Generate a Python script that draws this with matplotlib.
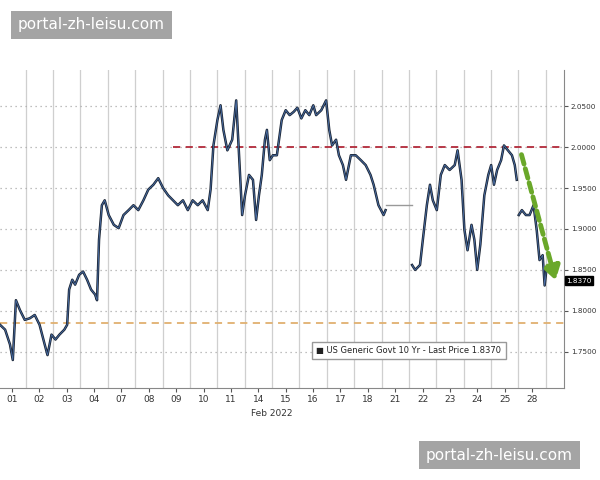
import matplotlib
matplotlib.use("Agg")
import matplotlib.pyplot as plt
import numpy as np

tick_labels = ["01","02","03","04","07","08","09","10","11","14","15","16","17","18","21","22","23","24","25","28"]
t1 = [-0.42,-0.24,-0.07,0.03,0.14,0.28,0.45,0.63,0.80,0.97,1.15,1.25,1.39,1.53,1.67,1.84,1.94,2.01,2.12,2.22,2.36,2.50,2.64,2.78,2.92,2.99,3.06,3.16,3.26,3.40,3.58,3.75,3.92,4.10,4.27,4.44,4.62,4.79,4.97,5.14,5.31,5.49,5.66,5.83,6.01,6.18,6.35,6.53,6.70,6.88,6.98,7.08,7.22,7.33,7.43,7.57,7.74,7.88,7.99,8.09,8.19,8.33,8.47,8.58,8.68,8.78,8.89,8.96,9.06,9.17,9.31,9.48,9.62,9.76,9.90,10.03,10.17,10.31,10.45,10.59,10.69,10.87,11.04,11.15,11.25,11.39,11.49,11.63,11.74,11.91,12.08,12.26,12.43,12.60,12.71,12.88,13.06,13.13]
v1 = [1.783,1.777,1.759,1.740,1.813,1.801,1.789,1.791,1.795,1.783,1.759,1.746,1.771,1.765,1.771,1.777,1.783,1.826,1.838,1.832,1.844,1.848,1.838,1.826,1.820,1.813,1.887,1.929,1.935,1.917,1.905,1.901,1.917,1.923,1.929,1.923,1.935,1.948,1.954,1.962,1.950,1.941,1.935,1.929,1.935,1.923,1.935,1.929,1.935,1.923,1.948,2.002,2.033,2.051,2.021,1.996,2.009,2.057,1.984,1.917,1.941,1.966,1.960,1.911,1.941,1.966,2.009,2.021,1.984,1.990,1.990,2.033,2.045,2.039,2.043,2.048,2.035,2.045,2.039,2.051,2.039,2.045,2.057,2.021,2.002,2.009,1.990,1.978,1.960,1.990,1.990,1.984,1.978,1.966,1.954,1.929,1.917,1.923]
t_gap = [13.13, 14.06]
v_gap = [1.929, 1.929]
t2 = [14.06,14.17,14.34,14.44,14.58,14.69,14.79,14.93,15.07,15.21,15.38,15.56,15.66,15.80,15.90,16.01,16.15,16.25,16.35,16.46,16.60,16.74,16.84,16.94,17.05,17.19,17.29,17.43,17.57,17.67,17.74]
v2 = [1.856,1.850,1.856,1.887,1.929,1.954,1.935,1.923,1.966,1.978,1.972,1.978,1.996,1.960,1.899,1.874,1.905,1.887,1.850,1.881,1.941,1.966,1.978,1.954,1.972,1.984,2.002,1.996,1.990,1.978,1.960]
t3 = [17.81,17.92,18.06,18.19,18.33,18.44,18.54,18.65,18.72,18.78]
v3 = [1.917,1.923,1.917,1.917,1.929,1.899,1.862,1.868,1.831,1.850]
last_price = 1.8370
resistance = 2.0
support = 1.785

fig = plt.figure(figsize=(6, 4.8), dpi=100)
ax = fig.add_axes([0.0, 0.192, 0.94, 0.662])
step = 0.962
ticks = [i*step for i in range(len(tick_labels))]
for i in range(len(ticks)+1):
    ax.axvline((i-0.5)*step, color="#cfcfcf", lw=0.9, zorder=0)
for y in [1.75,1.8,1.85,1.9,1.95,2.0,2.05]:
    ax.axhline(y, color="#aaaaaa", lw=0.9, ls=(0,(1,3)), zorder=0)

for t, v in [(t1, v1), (t2, v2), (t3, v3)]:
    ax.plot(t, v, color="#1a2433", lw=1.8, zorder=3)
    ax.plot(t, v, color="#4a6fa8", lw=0.6, zorder=4)
ax.plot(t_gap, v_gap, color="#999999", lw=1, zorder=3)

ax.plot([5.66, 19.4], [resistance]*2, color="#b22a3a", lw=1.3, ls=(0,(4,3)), zorder=2)
ax.axhline(support, color="#e0b070", lw=1.3, ls=(0,(4,3)), zorder=2)
ax.annotate("", xy=(19.13, 1.834), xytext=(17.88, 1.994),
            arrowprops=dict(arrowstyle="-|>,head_width=0.5,head_length=0.8", color="#6aa82a", lw=3.5, ls=(0,(2,1))), zorder=5)

ax.set_xlim(-0.42, 19.4)
ax.set_ylim(1.706, 2.094)
ax.set_xticks(ticks)
ax.set_xticklabels(tick_labels, fontsize=6.5, color="#333333")
ax.yaxis.tick_right()
ax.set_yticks([1.75,1.8,1.85,1.9,1.95,2.0,2.05])
ax.set_yticklabels(["1.7500","1.8000","1.8500","1.9000","1.9500","2.0000","2.0500"], fontsize=5.2, color="#333333")
ax.tick_params(length=3, color="#555555", pad=2)
for s in ["top","left"]:
    ax.spines[s].set_visible(False)
for s in ["right","bottom"]:
    ax.spines[s].set_color("#888888")
ax.text(9.5*step, -0.068, "Feb 2022", transform=ax.get_xaxis_transform(), fontsize=6.5, color="#333333", ha="center", va="top")
ax.text(1.004, last_price, "1.8370", transform=ax.get_yaxis_transform(), fontsize=5.2, color="white",
        va="center", ha="left", bbox=dict(boxstyle="square,pad=0.2", fc="black", ec="black"))
ax.text(10.7, 1.752, "\u25a0 US Generic Govt 10 Yr - Last Price 1.8370", fontsize=6, color="#222222",
        va="center", ha="left", bbox=dict(boxstyle="square,pad=0.5", fc="white", ec="#999999"), zorder=6)

wm = dict(boxstyle="square,pad=0.45", fc="#9a9a9a", ec="none", alpha=0.9)
fig.text(0.03, 0.948, "portal-zh-leisu.com", fontsize=11, color="white", va="center", ha="left", bbox=wm)
fig.text(0.71, 0.052, "portal-zh-leisu.com", fontsize=11, color="white", va="center", ha="left", bbox=wm)
fig.savefig("out.png", dpi=100, facecolor="white")
